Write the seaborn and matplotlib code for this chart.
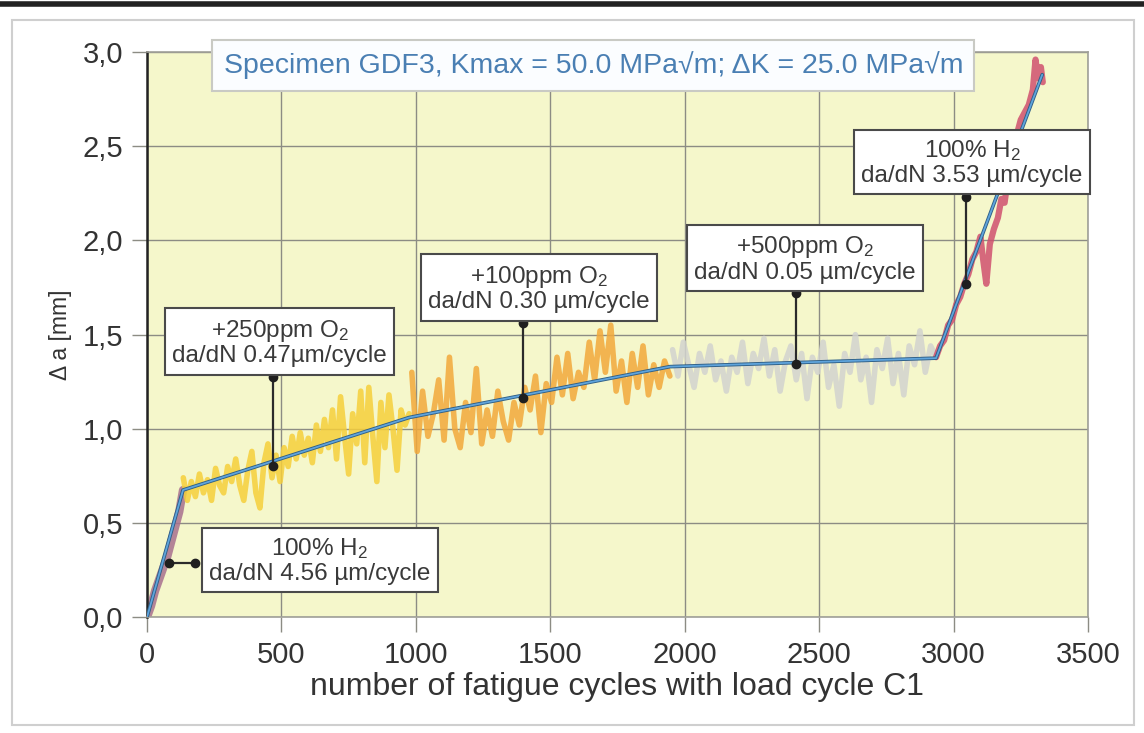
import numpy as np
import pandas as pd
import matplotlib
matplotlib.use('Agg')
import matplotlib.pyplot as plt
import seaborn as sns
from matplotlib.patches import Rectangle

h2_start_x = [0, 15, 30, 45, 60, 75, 90, 105, 120, 134]
h2_start_y = [0.0, 0.06, 0.14, 0.20, 0.26, 0.32, 0.40, 0.48, 0.56, 0.675]

o2_250_x = [135, 150, 165, 180, 195, 210, 225, 240, 255, 270, 285, 300, 315, 330, 345,
            360, 375, 390, 405, 420, 435, 450, 465, 480, 495, 510, 525, 540, 555, 570,
            585, 600, 615, 630, 645, 660, 675, 690, 705, 720, 735, 750, 765, 780, 795,
            810, 825, 840, 855, 870, 885, 900, 915, 930, 945, 960, 975]
o2_250_y = [0.74, 0.62, 0.72, 0.64, 0.76, 0.66, 0.73, 0.62, 0.79, 0.70, 0.66, 0.80, 0.72, 0.84, 0.70,
            0.62, 0.78, 0.88, 0.66, 0.58, 0.82, 0.92, 0.74, 0.86, 0.72, 0.90, 0.80, 0.96, 0.84, 0.98,
            0.86, 0.95, 0.82, 1.02, 0.88, 1.05, 0.90, 1.10, 0.84, 1.17, 0.96, 0.76, 1.08, 0.92, 1.20,
            0.82, 1.22, 0.96, 0.72, 1.14, 0.90, 1.18, 1.00, 0.78, 1.10, 1.02, 1.08]

o2_100_x = [985, 1005, 1025, 1045, 1065, 1085, 1105, 1125, 1145, 1165, 1185, 1205, 1225, 1245,
            1265, 1285, 1305, 1325, 1345, 1365, 1385, 1405, 1425, 1445, 1465, 1485, 1505, 1525,
            1545, 1565, 1585, 1605, 1625, 1645, 1665, 1685, 1705, 1725, 1745, 1765, 1785, 1805,
            1825, 1845, 1865, 1885, 1905, 1925, 1945]
o2_100_y = [1.30, 0.88, 1.20, 0.96, 1.08, 1.26, 0.94, 1.38, 1.00, 0.90, 1.14, 0.98, 1.32, 0.92,
            1.10, 0.96, 1.20, 1.04, 0.94, 1.14, 1.02, 1.22, 1.10, 1.28, 0.98, 1.24, 1.14, 1.38,
            1.18, 1.40, 1.16, 1.30, 1.22, 1.46, 1.26, 1.52, 1.30, 1.55, 1.20, 1.36, 1.14, 1.40,
            1.22, 1.44, 1.18, 1.34, 1.22, 1.36, 1.28]

o2_500_x = [1955, 1975, 1995, 2015, 2035, 2055, 2075, 2095, 2115, 2135, 2155, 2175, 2195, 2215,
            2235, 2255, 2275, 2295, 2315, 2335, 2355, 2375, 2395, 2415, 2435, 2455, 2475, 2495,
            2515, 2535, 2555, 2575, 2595, 2615, 2635, 2655, 2675, 2695, 2715, 2735, 2755, 2775,
            2795, 2815, 2835, 2855, 2875, 2895, 2915, 2935]
o2_500_y = [1.42, 1.28, 1.46, 1.34, 1.22, 1.40, 1.30, 1.44, 1.26, 1.36, 1.20, 1.38, 1.30, 1.46,
            1.24, 1.40, 1.32, 1.48, 1.28, 1.42, 1.20, 1.36, 1.44, 1.26, 1.40, 1.16, 1.38, 1.30,
            1.46, 1.22, 1.34, 1.12, 1.40, 1.30, 1.50, 1.26, 1.38, 1.14, 1.42, 1.32, 1.48, 1.24,
            1.40, 1.18, 1.44, 1.34, 1.52, 1.30, 1.44, 1.38]

h2_end_x = [2935, 2950, 2965, 2980, 2995, 3010, 3025, 3040, 3055, 3070, 3085, 3100, 3110, 3122,
            3135, 3150, 3165, 3178, 3190, 3205, 3220, 3235, 3250, 3265, 3280, 3295, 3305, 3315,
            3325, 3332]
h2_end_y = [1.38, 1.44, 1.47, 1.55, 1.58, 1.66, 1.70, 1.77, 1.82, 1.90, 1.94, 2.02, 1.90, 1.77,
            1.98, 2.06, 2.12, 2.22, 2.20, 2.36, 2.46, 2.56, 2.64, 2.68, 2.72, 2.80, 2.96, 2.86,
            2.92, 2.84]

# piecewise linear da/dN fit
fit_x = [0, 134, 975, 1945, 2935, 3330]
fit_y = [0.0, 0.675, 1.06, 1.33, 1.375, 2.88]

# annotation boxes: text, box centre, leader line (x0, y0, x1, y1)
box_texts = ['+250ppm O$_2$\nda/dN 0.47µm/cycle',
             '+100ppm O$_2$\nda/dN 0.30 µm/cycle',
             '+500ppm O$_2$\nda/dN 0.05 µm/cycle',
             '100% H$_2$\nda/dN 3.53 µm/cycle',
             '100% H$_2$\nda/dN 4.56 µm/cycle']
box_centres = [(494, 1.458), (1459, 1.745), (2448, 1.90), (3069, 2.414), (643, 0.30)]
leaders = [(467, 0.80, 467, 1.275), (1397, 1.165, 1397, 1.561), (2413, 1.346, 2413, 1.72),
           (3047, 1.77, 3047, 2.23), (82, 0.29, 178, 0.29)]

title_text = 'Specimen GDF3, Kmax = 50.0 MPa√m; ΔK = 25.0 MPa√m'
x_ticks = [0, 500, 1000, 1500, 2000, 2500, 3000, 3500]
y_ticks = [0.0, 0.5, 1.0, 1.5, 2.0, 2.5, 3.0]
y_tick_labels = ['0,0', '0,5', '1,0', '1,5', '2,0', '2,5', '3,0']

segments = [('100% H2 a', h2_start_x, h2_start_y),
            ('+250ppm O2', o2_250_x, o2_250_y),
            ('+100ppm O2', o2_100_x, o2_100_y),
            ('+500ppm O2', o2_500_x, o2_500_y),
            ('100% H2 b', h2_end_x, h2_end_y)]
frames = []
for name, xs, ys in segments:
    frames.append(pd.DataFrame({'cycles': xs, 'da': ys, 'phase': name}))
df = pd.concat(frames, ignore_index=True)

palette = {'100% H2 a': '#a8708e', '+250ppm O2': '#f6cf3a', '+100ppm O2': '#f2a93a',
           '+500ppm O2': '#d2d3cf', '100% H2 b': '#d0506e'}
widths = {'100% H2 a': 6, '+250ppm O2': 4, '+100ppm O2': 4, '+500ppm O2': 4, '100% H2 b': 4.5}

sns.set_theme(style='ticks')
plt.rcParams['font.family'] = ['Liberation Sans', 'DejaVu Sans']
plt.rcParams['mathtext.default'] = 'regular'

fig = plt.figure(figsize=(11.44, 7.33), dpi=100)
ax = fig.add_axes([0.1285, 0.158, 0.8225, 0.771])
ax.set_facecolor('#f5f7cb')

for name, xs, ys in segments:
    sns.lineplot(data=df[df['phase'] == name], x='cycles', y='da', sort=False,
                 estimator=None, color=palette[name], lw=widths[name], alpha=0.85, ax=ax)

ax.plot(fit_x, fit_y, color='#2f5f86', lw=2.6, zorder=3)
ax.plot(fit_x, fit_y, color='#5fa4dc', lw=1.3, zorder=3)

for txt, (cx, cy), (x0, y0, x1, y1) in zip(box_texts, box_centres, leaders):
    ax.plot([x0, x1], [y0, y1], color='#2b2b2b', lw=1.6, zorder=4)
    ax.plot([x0, x1], [y0, y1], 'o', color='#1f1f1f', ms=6, zorder=5)
    ax.text(cx, cy, txt, ha='center', va='center', fontsize=17.5, color='#3a3a3a',
            linespacing=1.1, zorder=6,
            bbox=dict(boxstyle='square,pad=0.3', fc='white', ec='#4a4a4a', lw=1.5))

ax.text(1660, 2.93, title_text, ha='center', va='center', fontsize=20.5, color='#4a7fb3',
        zorder=6, bbox=dict(boxstyle='square,pad=0.4', fc='#fbfdff', ec='#c9cac4', lw=1.5))

ax.set_xlim(0, 3500)
ax.set_ylim(0, 3.0)
ax.set_xticks(x_ticks)
ax.set_yticks(y_ticks)
ax.set_yticklabels(y_tick_labels)
ax.grid(True, color='#8c8c84', lw=1.0)
ax.tick_params(axis='both', direction='out', length=11, width=1.0, color='#8c8c84',
               labelsize=21, labelcolor='#333333', pad=6)
ax.set_xlabel('number of fatigue cycles with load cycle C1', fontsize=23, color='#333333',
              labelpad=2)
ax.set_ylabel('Δ a [mm]', fontsize=16.5, color='#333333', labelpad=8)
for side in ['top', 'right', 'bottom']:
    ax.spines[side].set_color('#a0a098')
    ax.spines[side].set_linewidth(1.2)
ax.spines['left'].set_color('#222222')
ax.spines['left'].set_linewidth(1.8)

# scan frame around the figure
fig.patches.append(Rectangle((12 / 1144, 8 / 733), 1122 / 1144, 705 / 733, transform=fig.transFigure,
                             fill=False, ec='#cfcfcf', lw=1.5))
fig.add_artist(plt.Line2D([0, 1], [1 - 4 / 733, 1 - 4 / 733], transform=fig.transFigure,
                          color='#222222', lw=4))

fig.savefig('out.png', dpi=100)
